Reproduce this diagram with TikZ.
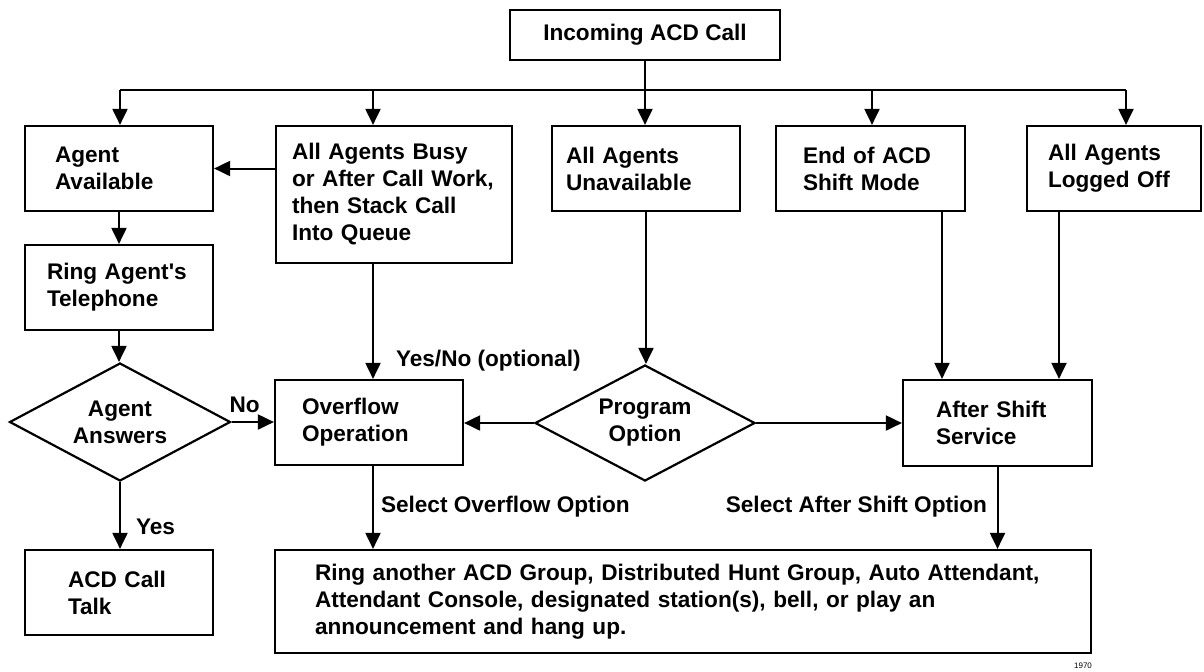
\documentclass[tikz,border=0pt]{standalone}
\usepackage{fontspec}
\setmainfont{Liberation Sans}
\usetikzlibrary{arrows.meta,positioning,calc,shapes.geometric}
\tikzset{
  blk/.style={draw,line width=1.1pt,rectangle,align=left,inner ysep=0pt,
    font=\fontsize{11.3}{13.5}\selectfont\bfseries},
  dec/.style={draw,line width=1.1pt,diamond,aspect=1.9,inner sep=0pt,align=center,
    font=\fontsize{11.3}{13.5}\selectfont\bfseries},
  flow/.style={-{Triangle[length=8pt,width=7.5pt]},line width=1pt},
  wire/.style={line width=1pt},
  lbl/.style={inner sep=0pt,font=\fontsize{11.3}{13.5}\selectfont\bfseries},
}

\begin{document}
\begin{tikzpicture}[x=0.5pt,y=-0.5pt]
  \useasboundingbox (0,0) rectangle (1204,671);
  \node[blk,align=center,minimum width=135pt,minimum height=25pt] (start) at (645,35) {Incoming ACD Call};
  \node[blk,text width=64pt,inner xsep=15pt,minimum height=42.5pt] (avail) at (119,168.5) {Agent\\Available};
  \node[blk,text width=102pt,inner xsep=8pt,minimum height=68.5pt] (busy) at (394,194.5)
    {All Agents Busy\\\mbox{or After Call Work,}\\then Stack Call\\Into Queue};
  \node[blk,text width=80pt,inner xsep=7pt,minimum height=42.5pt] (unavail) at (646,168.5) {All Agents\\Unavailable};
  \node[blk,text width=67.5pt,inner xsep=13.5pt,minimum height=42.5pt] (endmode) at (870.5,168.5) {End of ACD\\Shift Mode};
  \node[blk,text width=66pt,inner xsep=10.5pt,minimum height=42.5pt] (logoff) at (1114,168.5) {All Agents\\Logged Off};
  \node[blk,text width=72pt,inner xsep=11pt,minimum height=42.5pt] (ring) at (119,287.5) {Ring Agent\textquotesingle s\\Telephone};
  \node[dec,minimum width=110.5pt,minimum height=59pt] (answer) at (120,422) {Agent\\Answers};
  \node[blk,text width=67pt,inner xsep=13.5pt,minimum height=42.5pt] (ovf) at (369,422.5) {Overflow\\Operation};
  \node[dec,minimum width=110pt,minimum height=58pt] (prog) at (645,423) {Program\\Option};
  \node[blk,text width=61.5pt,inner xsep=16.5pt,minimum height=43pt] (after) at (997.5,423) {After Shift\\Service};
  \node[blk,text width=51pt,inner xsep=21.5pt,minimum height=42.5pt] (talk) at (119,592.5) {ACD Call\\Talk};
  \node[blk,text width=368pt,inner xsep=20pt,minimum height=51.5pt] (dest) at (683,601.5)
    {Ring another ACD Group, Distributed Hunt Group, Auto Attendant,\\
     Attendant Console, designated station(s), bell, or play an\\
     announcement and hang up.};
  \node[inner sep=0pt,font=\fontsize{4}{5}\selectfont] (fig) at (1083,666) {1970};
  % distribution bus
  \coordinate (bus1) at (120,90);
  \coordinate (bus2) at (373,90);
  \coordinate (bus4) at (872,90);
  \coordinate (bus5) at (1126,90);
  \draw[wire] (bus1) -- (bus5);
  \draw[flow] (start.south) -- (start.south |- unavail.north);
  \draw[flow] (bus1) -- (bus1 |- avail.north);
  \draw[flow] (bus2) -- (bus2 |- busy.north);
  \draw[flow] (bus4) -- (bus4 |- endmode.north);
  \draw[flow] (bus5) -- (bus5 |- logoff.north);
  % left column
  \draw[flow] (busy.west |- avail.east) -- (avail.east);
  \draw[flow] (avail.south) -- (ring.north);
  \draw[flow] (ring.south) -- (ring.south |- answer.north);
  \draw[flow] (answer.east) -- node[lbl,pos=0,anchor=base west,xshift=-1.5pt,yshift=5pt] {No} (answer.east -| ovf.west);
  \draw[flow] (answer.south) -- node[lbl,pos=0.78,anchor=base west,xshift=7.5pt] {Yes} (answer.south |- talk.north);
  % middle
  \draw[flow] (bus2 |- busy.south) -- node[lbl,pos=0.889,anchor=base west,xshift=11pt] {Yes/No (optional)} (bus2 |- ovf.north);
  \draw[flow] (bus2 |- ovf.south) -- node[lbl,pos=0.565,anchor=base west,xshift=3.5pt] {Select Overflow Option} (bus2 |- dest.north);
  \draw[flow] (unavail.south) -- (unavail.south |- prog.north);
  \draw[flow] (prog.west) -- (prog.west -| ovf.east);
  \draw[flow] (prog.east) -- (prog.east -| after.west);
  % right
  \draw[flow] ([xshift=35.75pt]endmode.south) -- ([xshift=35.75pt]endmode.south |- after.north);
  \draw[flow] ([xshift=-27.5pt]logoff.south) -- ([xshift=-27.5pt]logoff.south |- after.north);
  \draw[flow] (after.south) -- node[lbl,pos=0.56,anchor=base east,xshift=-4.75pt] {Select After Shift Option} (after.south |- dest.north);
\end{tikzpicture}
\end{document}
